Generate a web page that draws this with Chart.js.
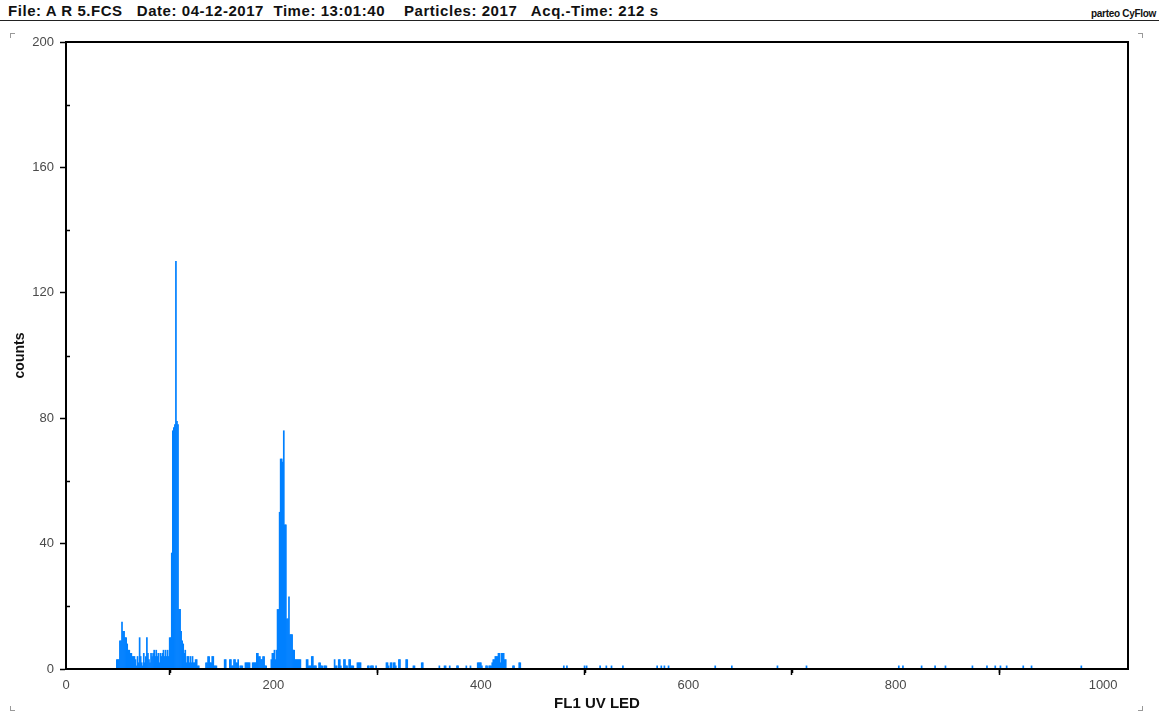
<!DOCTYPE html>
<html>
<head>
<meta charset="utf-8">
<script src="https://cdn.jsdelivr.net/npm/chart.js@4.4.1/dist/chart.umd.min.js"></script>
<style>
  html, body { margin: 0; padding: 0; background: #fff; }
  body { width: 1159px; height: 713px; position: relative; overflow: hidden; font-family: "Liberation Sans", Arial, sans-serif; }
  #header { position: absolute; left: 8px; top: 2px; font-size: 15px; font-weight: bold; color: #111; white-space: pre; letter-spacing: 0.55px; }
  #brand { position: absolute; right: 3px; top: 8px; font-size: 10px; font-weight: bold; color: #111; letter-spacing: -0.3px; }
  #rule { position: absolute; left: 0; top: 20px; width: 1159px; height: 0; border-top: 1.5px solid #222; }
  .corner { position: absolute; width: 4px; height: 4px; border-color: #999; border-style: solid; border-width: 0; }
  #chartBox { position: absolute; left: 0; top: 0; width: 1159px; height: 713px; }
</style>
</head>
<body>
<div id="header">File: A R 5.FCS   Date: 04-12-2017  Time: 13:01:40    Particles: 2017   Acq.-Time: 212 s</div>
<div id="brand">parteo CyFlow</div>
<div id="rule"></div>
<div class="corner" style="left:10px; top:33px; border-left-width:1px; border-top-width:1px;"></div>
<div class="corner" style="left:1138px; top:33px; border-right-width:1px; border-top-width:1px;"></div>
<div class="corner" style="left:10px; top:706px; border-left-width:1px; border-bottom-width:1px;"></div>
<div class="corner" style="left:1138px; top:706px; border-right-width:1px; border-bottom-width:1px;"></div>
<div id="chartBox"><canvas id="histo"></canvas></div>

<script>
// histogram counts, one value per channel starting at firstChannel
const firstChannel = 49;
const mainCounts = [
  3, 3, 3, 9, 9, 15, 12, 12, 10, 10,      // 49-58
  8, 6, 6, 5, 5, 4, 4, 4, 3, 1,           // 59-68
  4, 2, 10, 4, 2, 1, 5, 2, 4, 10,         // 69-78
  5, 3, 2, 5, 4, 5, 6, 4, 6, 4,           // 79-88
  5, 2, 5, 4, 5, 6, 4, 6, 4, 6,           // 89-98
  4, 10, 10, 37, 76, 77, 78, 130, 79, 78, // 99-108
  19, 19, 12, 9, 8, 5, 6, 2, 4, 4,        // 109-118
  2, 4, 2, 4, 2, 2, 3, 3, 1, 1,           // 119-128
  0, 0, 0, 0, 0, 0, 2, 2, 4, 4,           // 129-138
  2, 2, 4, 4, 1, 1, 1, 0, 0, 0,           // 139-148
  0, 0, 0, 0, 3, 3, 0, 0, 0, 3,           // 149-158
  3, 1, 1, 3, 3, 2, 2, 3, 0, 1,           // 159-168
  1, 1, 0, 0, 2, 2, 2, 2, 2, 0,           // 169-178
  0, 2, 2, 2, 2, 5, 5, 4, 4, 3,           // 179-188
  3, 4, 4, 1, 1, 0, 0, 0, 0, 3,           // 189-198
  5, 5, 6, 3, 6, 19, 19, 50, 67, 67,      // 199-208
  66, 76, 46, 46, 16, 16, 23, 11, 11, 11, // 209-218
  6, 6, 3, 3, 3, 3, 3, 3                  // 219-226
];

// scattered bins above the second peak
const sparseChannels = [
  232, 233, 234, 235, 236, 237, 238, 239, 240, 241, 244, 245, 246, 247, 249, 250, 251,
  259, 260, 261, 263, 264, 265, 268, 269, 270, 271, 273, 274, 275, 276, 277,
  281, 282, 283, 284, 291, 292, 294, 295, 296, 299, 309, 310, 311, 313, 314, 316, 317, 318,
  321, 322, 328, 329, 335, 336, 343, 344, 360, 365, 366, 370, 377, 378, 386, 390,
  397, 398, 399, 400, 401, 405, 406, 408, 409, 410, 411, 412, 413, 414, 415, 416,
  417, 418, 419, 420, 421, 422, 423, 424, 431, 432, 437, 438
];
const sparseCounts = [
  3, 3, 1, 1, 1, 4, 4, 1, 1, 1, 2, 2, 1, 1, 1, 1, 1,
  3, 1, 1, 3, 3, 1, 3, 3, 1, 1, 3, 3, 1, 1, 1,
  2, 2, 2, 2, 1, 1, 1, 1, 1, 1, 2, 2, 1, 2, 2, 2, 2, 1,
  3, 3, 3, 3, 1, 1, 2, 2, 1, 1, 1, 1, 1, 1, 1, 1,
  2, 2, 2, 2, 1, 1, 1, 1, 1, 1, 2, 3, 3, 4, 4, 4,
  5, 5, 2, 5, 5, 5, 3, 3, 1, 1, 2, 2
];

// single events in the high channels
const singleChannels = [480, 483, 500, 502, 515, 521, 526, 537, 570, 574, 577, 581, 626, 642,
  686, 714, 803, 807, 825, 838, 848, 874, 888, 896, 901, 907, 923, 931, 979];

const xMajorTicks = [0, 200, 400, 600, 800, 1000];
const yMajorTicks = [0, 40, 80, 120, 160, 200];

// build the points list
const points = [];
mainCounts.forEach((c, i) => { if (c > 0) points.push({ x: firstChannel + i, y: c }); });
sparseChannels.forEach((ch, i) => points.push({ x: ch, y: sparseCounts[i] }));
singleChannels.forEach(ch => points.push({ x: ch, y: 1 }));

const BLUE = "rgb(0, 128, 255)";
const LABEL = "#4a4a4a";

// frame and minor ticks
const framePlugin = {
  id: "frame",
  afterDraw(chart) {
    const { ctx, chartArea: a, scales } = chart;
    ctx.save();
    ctx.strokeStyle = "#000";
    ctx.lineWidth = 2;
    ctx.strokeRect(a.left, a.top, a.right - a.left, a.bottom - a.top);
    ctx.lineWidth = 1.5;
    ctx.beginPath();
    for (let v = 100; v <= 1000; v += 200) {
      const px = Math.round(scales.x.getPixelForValue(v)) + 0.5;
      ctx.moveTo(px, a.bottom);
      ctx.lineTo(px, a.bottom + 4);
    }
    for (let v = 20; v <= 180; v += 40) {
      const py = Math.round(scales.y.getPixelForValue(v)) + 0.5;
      ctx.moveTo(a.left, py);
      ctx.lineTo(a.left + 4, py);
    }
    ctx.stroke();
    ctx.restore();
  }
};

new Chart(document.getElementById("histo"), {
  type: "bar",
  data: {
    datasets: [{
      data: points,
      backgroundColor: BLUE,
      borderWidth: 0,
      barPercentage: 1.0,
      categoryPercentage: 1.0
    }]
  },
  options: {
    responsive: true,
    maintainAspectRatio: false,
    animation: false,
    layout: { padding: { top: 42, right: 31, left: 0, bottom: 0 } },
    plugins: { legend: { display: false }, tooltip: { enabled: false } },
    scales: {
      x: {
        type: "linear",
        min: 0,
        max: 1024,
        offset: false,
        afterFit: s => { s.height = 44; },
        afterBuildTicks: s => { s.ticks = xMajorTicks.map(v => ({ value: v })); },
        grid: { drawOnChartArea: false, color: "#000", tickLength: 6, tickWidth: 1.5 },
        border: { color: "#000", width: 2 },
        ticks: { color: LABEL, font: { family: "Liberation Sans", size: 13 }, padding: 3, maxRotation: 0, callback: v => String(v) },
        title: { display: true, text: "FL1 UV LED", color: "#111", font: { family: "Liberation Sans", size: 15, weight: "bold" }, padding: { top: 1, bottom: 0 } }
      },
      y: {
        min: 0,
        max: 200,
        afterFit: s => { s.width = 66; },
        afterBuildTicks: s => { s.ticks = yMajorTicks.map(v => ({ value: v })); },
        grid: { drawOnChartArea: false, color: "#000", tickLength: 6, tickWidth: 1.5 },
        border: { color: "#000", width: 2 },
        ticks: { color: LABEL, font: { family: "Liberation Sans", size: 13 }, padding: 6, callback: v => String(v) },
        title: { display: true, text: "counts", color: "#111", font: { family: "Liberation Sans", size: 14, weight: "bold" }, padding: { top: 12, bottom: 0 } }
      }
    }
  },
  plugins: [framePlugin]
});
</script>
</body>
</html>
